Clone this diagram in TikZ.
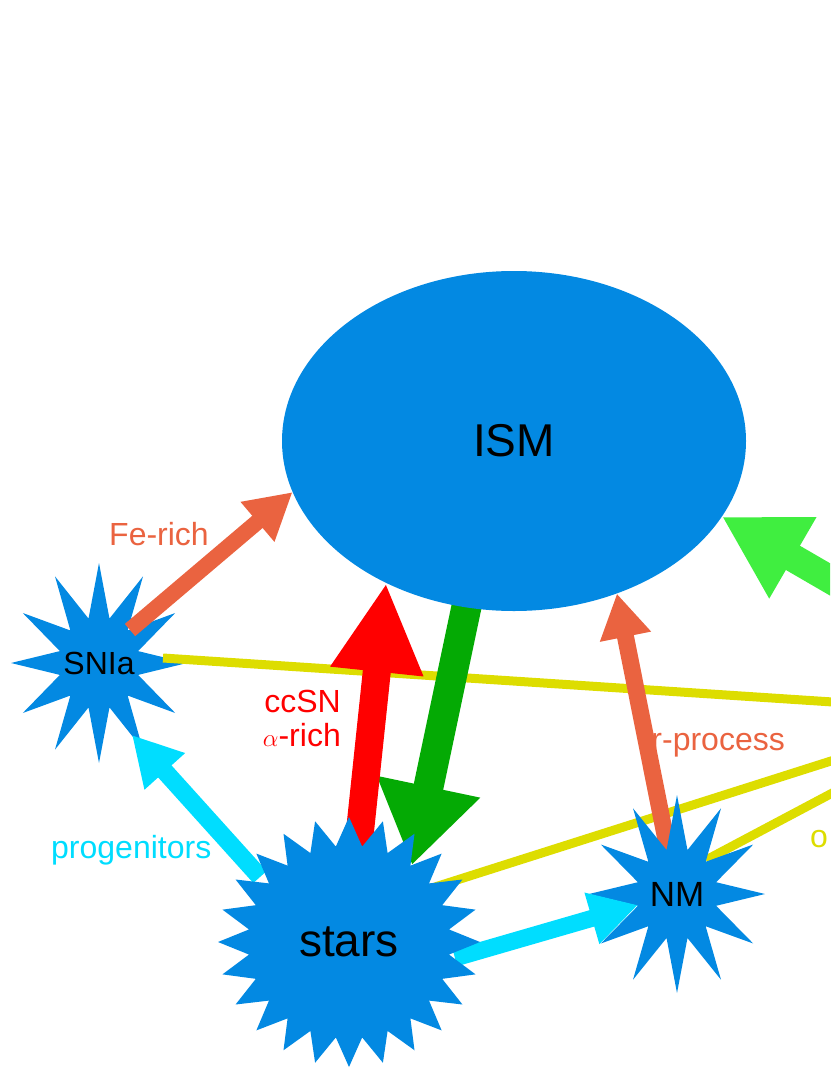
\documentclass[tikz,border=0pt]{standalone}
\usepackage{fontspec}
\setmainfont{Liberation Sans}
\usetikzlibrary{arrows.meta,shapes.geometric,calc}

\definecolor{ismblue}{RGB}{3,137,226}
\definecolor{flame}{RGB}{234,99,64}
\definecolor{aqua}{RGB}{0,221,255}
\definecolor{leaf}{RGB}{4,170,4}
\definecolor{spring}{RGB}{64,238,64}
\definecolor{lemon}{RGB}{221,221,0}

\pgfdeclarelayer{back}
\pgfsetlayers{back,main}

% spiky star: centre, rx, ry, inner ratio, number of corners
\newcommand{\spikystar}[5]{%
  \fill[ismblue] ($(#1)+(0,-#3)$)
    \foreach \k in {1,...,#5} {
      -- ($(#1)+({#2*(1-(1-#4)*mod(\k,2))*cos(90+(360/#5)*\k)},{-#3*(1-(1-#4)*mod(\k,2))*sin(90+(360/#5)*\k)})$)
    } -- cycle;}

\begin{document}
\begin{tikzpicture}[
    x=1pt, y=-1pt,
    font=\fontsize{32}{34}\selectfont,
    big/.style={font=\fontsize{46}{54}\selectfont},
    lbl/.style={inner sep=0pt},
    ylink/.style={draw=lemon, line width=9pt}
]
    \useasboundingbox (0,0) rectangle (830,1075);
    \clip (0,0) rectangle (830,1075);

    \coordinate (sniac) at (99,663);
    \coordinate (starsc) at (349,942);
    \coordinate (nmc) at (677,894);
    \coordinate (sink) at (985,712);
    \coordinate (inflow) at (900,620);

    \node[ellipse, fill=ismblue, minimum width=464pt, minimum height=340pt, big] (ism) at (514,441) {ISM};

    \begin{pgfonlayer}{back}
        \spikystar{sniac}{88}{100}{0.46}{24}
        \draw[ylink] ($(sniac)+(64,-5)$) -- (sink);
        \draw[ylink] ($(starsc)+(86,-55)$) -- (sink);
        \draw[ylink] ($(nmc)+(29,-34)$) -- (sink);
        \draw[leaf, line width=30pt, -{Triangle[length=80pt, width=100pt]}] ($(ism.254)+(3,-14)$) -- ($(starsc)+(63,-77)$);
    \end{pgfonlayer}
    \node (snia) at (sniac) {SNIa};

    % labels
    \node[lbl, text=flame, anchor=base west] (ferich) at (109,545) {Fe-rich};
    \node[lbl, text=red, align=right, anchor=east] (ccsn) at (341,718) {ccSN\\$\alpha$-rich};
    \node[lbl, text=aqua, anchor=base west] (progen) at (51,858) {progenitors};
    \node[lbl, text=flame, anchor=base east] (rproc) at (785,750) {r-process};
    \node[lbl, text=lemon, anchor=base west] (outlbl) at (810,847) {o};

    \draw[flame, line width=16pt, -{Triangle[length=46pt, width=49pt]}] ($(sniac)+(31,-33)$) -- (ism.193.5);
    \draw[red, line width=28pt, -{Triangle[length=89pt, width=87pt]}] ($(starsc)+(9,-92)$) -- (ism.228.2);
    \draw[spring, line width=28pt, -{Triangle[length=82pt, width=88pt]}] (inflow) -- (ism.340.4);
    \draw[aqua, line width=18pt, -{Triangle[length=49pt, width=51pt]}] ($(starsc)+(-89,-65)$) -- ($(sniac)+(33,72)$);
    \draw[flame, line width=17pt, -{Triangle[length=44pt, width=49pt]}] ($(nmc)+(-9,-44)$) -- (ism.304.1);

    \spikystar{nmc}{88}{99}{0.46}{24}
    \node[font=\fontsize{35}{40}\selectfont] (nm) at (nmc) {NM};
    \draw[aqua, line width=17pt, -{Triangle[length=48pt, width=50pt]}] ($(starsc)+(106,16)$) -- ($(nmc)+(-39,11)$);

    \spikystar{starsc}{131}{125}{0.77}{48}
    \node[big] (stars) at (starsc) {stars};
\end{tikzpicture}
\end{document}
